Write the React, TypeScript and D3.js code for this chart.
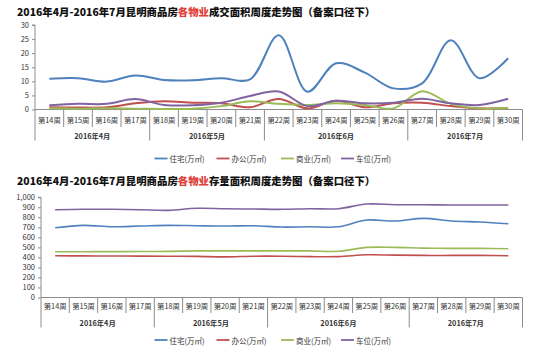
import { useEffect, useRef } from "react";
import * as d3 from "d3";

// week categories and their month groups
const weeks = [
  "第14周", "第15周", "第16周", "第17周",
  "第18周", "第19周", "第20周", "第21周",
  "第22周", "第23周", "第24周", "第25周", "第26周",
  "第27周", "第28周", "第29周", "第30周",
];
const months = ["2016年4月", "2016年5月", "2016年6月", "2016年7月"];
const monthSizes = [4, 4, 5, 4];

const seriesNames = ["住宅(万㎡)", "办公(万㎡)", "商业(万㎡)", "车位(万㎡)"];

// chart 1 - transaction area
const dealHousing = [10.9, 11.1, 9.9, 12.1, 10.5, 10.4, 11.1, 10.7, 26.4, 6.3, 16.4, 13.1, 7.5, 9.3, 24.6, 11.1, 18.2];
const dealOffice = [0.8, 0.7, 0.8, 2.2, 2.9, 2.4, 2.2, 0.8, 3.7, 0.4, 3.1, 0.8, 2.2, 2.4, 1.2, 0.4, 0.5];
const dealShop = [0.4, 0.3, 0.4, 0.3, 0.2, 0.3, 1.2, 2.9, 2.0, 1.6, 2.2, 1.6, 0.4, 6.5, 2.0, 0.4, 0.5];
const dealParking = [1.5, 2.0, 2.0, 3.7, 1.6, 1.5, 2.4, 4.8, 6.4, 1.2, 3.1, 2.2, 2.4, 3.8, 2.2, 1.6, 3.8];
const dealTicks = [0, 5, 10, 15, 20, 25, 30];

// chart 2 - stock area
const stockHousing = [696, 720, 706, 713, 720, 716, 713, 716, 703, 706, 706, 773, 763, 790, 763, 753, 736];
const stockOffice = [416, 415, 414, 413, 412, 410, 405, 412, 412, 408, 408, 426, 423, 420, 420, 420, 416];
const stockShop = [456, 457, 458, 459, 460, 465, 465, 465, 465, 465, 461, 500, 500, 493, 490, 490, 486];
const stockParking = [876, 880, 880, 876, 870, 890, 886, 883, 880, 886, 886, 933, 926, 926, 923, 923, 923];
const stockTicks = [0, 100, 200, 300, 400, 500, 600, 700, 800, 900, 1000];

const COLORS = ["#4F81BD", "#C0504D", "#9BBB59", "#8064A2"];
const AXIS = "#8c8c8c";
const FONT = "'Noto Sans CJK SC', 'DejaVu Sans', sans-serif";

interface ChartProps {
  title: [string, string, string];
  series: number[][];
  ticks: number[];
  tickFormat: (d: number) => string;
  left: number;
  plotTop: number;
  plotBottom: number;
  lineWidth: number;
  weekRow: number;
  monthRow: number;
  legendY: number;
  titleY: number;
}

function drawChart(svg: d3.Selection<SVGSVGElement, unknown, null, undefined>, p: ChartProps) {
  const g = svg.append("g");
  const right = 522.5;

  // title
  const title = g.append("text")
    .attr("x", 17)
    .attr("y", p.titleY)
    .attr("font-size", 10.4)
    .attr("font-weight", 900)
    .attr("font-family", FONT)
    .attr("dominant-baseline", "central");
  title.append("tspan").attr("fill", "#111").text(p.title[0]);
  title.append("tspan").attr("fill", "#e0403a").text(p.title[1]);
  title.append("tspan").attr("fill", "#111").text(p.title[2]);

  const x = d3.scaleBand<string>().domain(weeks).range([p.left, right]);
  const y = d3.scaleLinear()
    .domain([0, p.ticks[p.ticks.length - 1]])
    .range([p.plotBottom, p.plotTop]);

  // y axis
  g.append("g")
    .attr("transform", `translate(${p.left},0)`)
    .call(d3.axisLeft(y).tickValues(p.ticks).tickSize(3).tickFormat((d) => p.tickFormat(d as number)))
    .call((a) => a.select(".domain").attr("stroke", AXIS).attr("d", `M-3,${p.plotTop}H0V${p.plotBottom}`))
    .call((a) => a.selectAll("line").attr("stroke", AXIS))
    .call((a) => a.selectAll("text")
      .attr("fill", "#333")
      .attr("font-size", 7.5)
      .attr("font-family", FONT)
      .attr("x", -6));

  // x axis with two-level categories
  const xa = g.append("g");
  xa.append("line")
    .attr("x1", p.left).attr("x2", right)
    .attr("y1", p.plotBottom).attr("y2", p.plotBottom)
    .attr("stroke", AXIS);

  const monthStarts = d3.cumsum([0, ...monthSizes]);
  const boundaries = d3.range(weeks.length + 1);
  boundaries.forEach((b) => {
    const bx = b < weeks.length ? x(weeks[b])! : right;
    const isMonth = monthStarts.includes(b);
    xa.append("line")
      .attr("x1", bx).attr("x2", bx)
      .attr("y1", p.plotBottom)
      .attr("y2", isMonth ? p.monthRow + 5 : p.weekRow + 7)
      .attr("stroke", AXIS);
  });

  xa.selectAll("text.week")
    .data(weeks)
    .join("text")
    .attr("class", "week")
    .attr("x", (d) => x(d)! + x.bandwidth() / 2)
    .attr("y", p.weekRow)
    .attr("text-anchor", "middle")
    .attr("dominant-baseline", "central")
    .attr("font-size", 7.3)
    .attr("font-family", FONT)
    .attr("fill", "#333")
    .text((d) => d);

  months.forEach((m, i) => {
    const x0 = x(weeks[monthStarts[i]])!;
    const x1 = monthStarts[i + 1] < weeks.length ? x(weeks[monthStarts[i + 1]])! : right;
    xa.append("text")
      .attr("x", (x0 + x1) / 2)
      .attr("y", p.monthRow)
      .attr("text-anchor", "middle")
      .attr("dominant-baseline", "central")
      .attr("font-size", 7.3)
      .attr("font-family", FONT)
      .attr("font-weight", 600)
      .attr("fill", "#333")
      .text(m);
  });

  // lines
  const line = d3.line<number>()
    .x((_, i) => x(weeks[i])! + x.bandwidth() / 2)
    .y((d) => y(d))
    .curve(d3.curveCatmullRom.alpha(0.5));

  p.series.forEach((s, i) => {
    g.append("path")
      .attr("d", line(s))
      .attr("fill", "none")
      .attr("stroke", COLORS[i])
      .attr("stroke-width", p.lineWidth)
      .attr("stroke-linejoin", "round");
  });

  // legend
  const legendX = [154.5, 216.5, 281, 341];
  seriesNames.forEach((name, i) => {
    const lg = g.append("g").attr("transform", `translate(${legendX[i]},${p.legendY})`);
    lg.append("line").attr("x1", 0).attr("x2", 13).attr("stroke", COLORS[i]).attr("stroke-width", 1.8);
    lg.append("text")
      .attr("x", 15)
      .attr("dominant-baseline", "central")
      .attr("font-size", 7.5)
      .attr("font-family", FONT)
      .attr("fill", "#333")
      .text(name);
  });
}

export default function App() {
  const svgRef = useRef<SVGSVGElement>(null);

  useEffect(() => {
    if (!svgRef.current) return;
    const svg = d3.select(svgRef.current);
    svg.selectAll("*").remove();

    drawChart(svg, {
      title: ["2016年4月-2016年7月昆明商品房", "各物业", "成交面积周度走势图（备案口径下）"],
      series: [dealHousing, dealOffice, dealShop, dealParking],
      ticks: dealTicks,
      tickFormat: (d) => `${d}`,
      left: 35,
      plotTop: 25,
      plotBottom: 109.5,
      lineWidth: 2,
      weekRow: 120,
      monthRow: 135.5,
      legendY: 158.5,
      titleY: 11,
    });

    drawChart(svg, {
      title: ["2016年4月-2016年7月昆明商品房", "各物业", "存量面积周度走势图（备案口径下）"],
      series: [stockHousing, stockOffice, stockShop, stockParking],
      ticks: stockTicks,
      tickFormat: (d) => d3.format(",")(d),
      left: 41,
      plotTop: 197.3,
      plotBottom: 297.5,
      lineWidth: 1.6,
      weekRow: 306,
      monthRow: 322.5,
      legendY: 340,
      titleY: 180,
    });
  }, []);

  return (
    <div style={{ position: "fixed", left: 0, top: 0, background: "#fff" }}>
      <svg ref={svgRef} width={537} height={354} style={{ display: "block" }} />
    </div>
  );
}
